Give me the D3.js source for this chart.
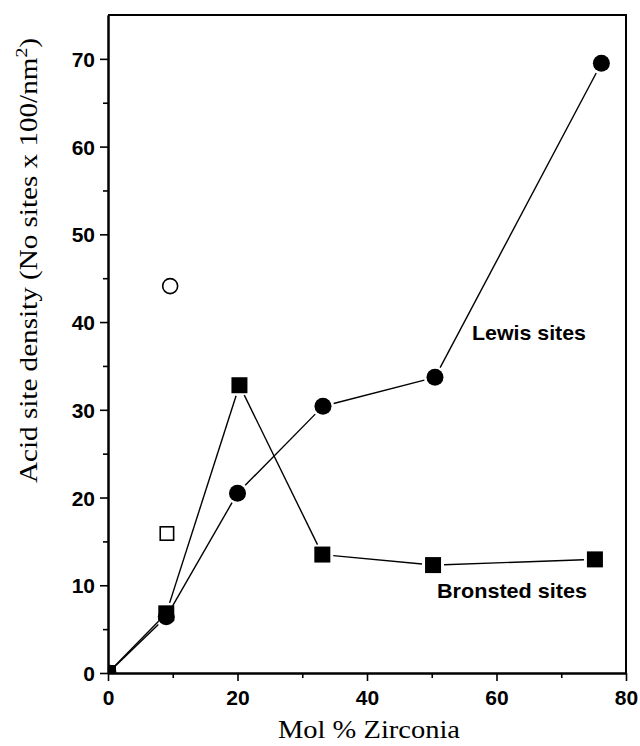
<!DOCTYPE html>
<html>
<head>
<meta charset="utf-8">
<script src="https://cdn.jsdelivr.net/npm/d3@7"></script>
<style>
  body { margin: 0; background: #fff; }
</style>
</head>
<body>
<div id="chart"></div>
<script>
// values
var lewisX = [0, 9.0, 20.0, 33.2, 50.5, 76.2];
var lewisY = [0, 6.4, 20.5, 30.4, 33.7, 69.5];
var bronstedX = [0, 9.0, 20.3, 33.1, 50.2, 75.2];
var bronstedY = [0, 6.8, 32.8, 13.5, 12.3, 12.95];
var openCircleX = [9.6], openCircleY = [44.1];
var openSquareX = [9.1], openSquareY = [15.9];

var xTicks = [0, 20, 40, 60, 80], xMinor = [10, 30, 50, 70];
var yTicks = [0, 10, 20, 30, 40, 50, 60, 70], yMinor = [5, 15, 25, 35, 45, 55, 65];

var width = 640, height = 746;
var plot = {left: 108, right: 626, top: 15, bottom: 673};

var x = d3.scaleLinear().domain([0, 80]).range([plot.left, plot.right]);
var y = d3.scaleLinear().domain([0, 75]).range([plot.bottom, plot.top]);

var svg = d3.select("#chart").append("svg")
    .attr("width", width)
    .attr("height", height);

svg.append("clipPath").attr("id", "plotclip")
  .append("rect")
    .attr("x", plot.left).attr("y", plot.top)
    .attr("width", plot.right - plot.left)
    .attr("height", plot.bottom - plot.top);

// minor ticks first, then major axes with labels
svg.append("g")
    .attr("transform", "translate(0," + plot.bottom + ")")
    .call(d3.axisBottom(x).tickValues(xMinor).tickSize(5).tickSizeOuter(0).tickFormat(""));
svg.append("g")
    .attr("transform", "translate(" + plot.left + ",0)")
    .call(d3.axisLeft(y).tickValues(yMinor).tickSize(5).tickSizeOuter(0).tickFormat(""));

var xAxis = svg.append("g")
    .attr("class", "axis")
    .attr("transform", "translate(0," + plot.bottom + ")")
    .call(d3.axisBottom(x).tickValues(xTicks).tickSize(8).tickSizeOuter(0).tickPadding(10).tickFormat(d3.format("d")));
var yAxis = svg.append("g")
    .attr("class", "axis")
    .attr("transform", "translate(" + plot.left + ",0)")
    .call(d3.axisLeft(y).tickValues(yTicks).tickSize(8).tickSizeOuter(0).tickPadding(5).tickFormat(d3.format("d")));

svg.selectAll(".tick line").attr("stroke", "#000").attr("stroke-width", 1.6);
svg.selectAll(".domain").attr("stroke", "#000").attr("stroke-width", 2);
svg.selectAll(".axis text")
    .attr("fill", "#000")
    .style("font-family", "'Liberation Sans', Arial, sans-serif")
    .style("font-weight", "bold")
    .style("font-size", "21px");
xAxis.selectAll("text").attr("dy", "0.68em");
yAxis.selectAll("text").attr("dy", "0.36em");

// top and right frame
svg.append("path")
    .attr("d", "M" + plot.left + "," + plot.top + "H" + plot.right + "V" + plot.bottom)
    .attr("fill", "none")
    .attr("stroke", "#000")
    .attr("stroke-width", 2);

// connecting lines, stopped short of the markers
var gap = 11;
function segments(xs, ys) {
  var out = [];
  for (var i = 0; i < xs.length - 1; i++) {
    var x0 = x(xs[i]), y0 = y(ys[i]), x1 = x(xs[i + 1]), y1 = y(ys[i + 1]);
    var len = Math.hypot(x1 - x0, y1 - y0);
    var ux = (x1 - x0) / len, uy = (y1 - y0) / len;
    var g0 = i === 0 ? 3 : gap;
    out.push([x0 + ux * g0, y0 + uy * g0, x1 - ux * gap, y1 - uy * gap]);
  }
  return out;
}

var lines = svg.append("g").attr("stroke", "#000").attr("stroke-width", 1.4);
[[lewisX, lewisY], [bronstedX, bronstedY]].forEach(function(s) {
  lines.selectAll(null)
      .data(segments(s[0], s[1]))
    .enter().append("line")
      .attr("x1", function(d) { return d[0]; })
      .attr("y1", function(d) { return d[1]; })
      .attr("x2", function(d) { return d[2]; })
      .attr("y2", function(d) { return d[3]; });
});

var marks = svg.append("g").attr("clip-path", "url(#plotclip)");

marks.selectAll(".lewis")
    .data(d3.zip(lewisX, lewisY))
  .enter().append("circle")
    .attr("class", "lewis")
    .attr("cx", function(d) { return x(d[0]); })
    .attr("cy", function(d) { return y(d[1]); })
    .attr("r", 8.5)
    .attr("fill", "#000");

marks.selectAll(".bronsted")
    .data(d3.zip(bronstedX, bronstedY))
  .enter().append("rect")
    .attr("class", "bronsted")
    .attr("x", function(d) { return x(d[0]) - 8; })
    .attr("y", function(d) { return y(d[1]) - 8; })
    .attr("width", 16)
    .attr("height", 16)
    .attr("fill", "#000");

marks.selectAll(".opencircle")
    .data(d3.zip(openCircleX, openCircleY))
  .enter().append("circle")
    .attr("class", "opencircle")
    .attr("cx", function(d) { return x(d[0]); })
    .attr("cy", function(d) { return y(d[1]); })
    .attr("r", 7.5)
    .attr("fill", "#fff")
    .attr("stroke", "#000")
    .attr("stroke-width", 1.6);

marks.selectAll(".opensquare")
    .data(d3.zip(openSquareX, openSquareY))
  .enter().append("rect")
    .attr("class", "opensquare")
    .attr("x", function(d) { return x(d[0]) - 6.7; })
    .attr("y", function(d) { return y(d[1]) - 6.7; })
    .attr("width", 13.4)
    .attr("height", 13.4)
    .attr("fill", "#fff")
    .attr("stroke", "#000")
    .attr("stroke-width", 1.6);

// series labels
svg.append("text")
    .attr("x", 472).attr("y", 340)
    .attr("textLength", 114)
    .attr("lengthAdjust", "spacingAndGlyphs")
    .style("font-family", "'Liberation Sans', Arial, sans-serif")
    .style("font-weight", "bold")
    .style("font-size", "21px")
    .text("Lewis sites");

svg.append("text")
    .attr("x", 437).attr("y", 598)
    .attr("textLength", 150)
    .attr("lengthAdjust", "spacingAndGlyphs")
    .style("font-family", "'Liberation Sans', Arial, sans-serif")
    .style("font-weight", "bold")
    .style("font-size", "21px")
    .text("Bronsted sites");

// axis titles
svg.append("text")
    .attr("x", 278).attr("y", 738)
    .attr("textLength", 182)
    .attr("lengthAdjust", "spacingAndGlyphs")
    .style("font-family", "'Liberation Serif', 'Times New Roman', serif")
    .style("font-size", "25px")
    .text("Mol % Zirconia");

var yTitle = svg.append("text")
    .attr("transform", "translate(37,483) rotate(-90)")
    .attr("textLength", 445)
    .attr("lengthAdjust", "spacingAndGlyphs")
    .style("font-family", "'Liberation Serif', 'Times New Roman', serif")
    .style("font-size", "25px");
yTitle.append("tspan").text("Acid site density (No sites x 100/nm");
yTitle.append("tspan").attr("dy", -10).style("font-size", "17px").text("2");
yTitle.append("tspan").attr("dy", 10).text(")");
</script>
</body>
</html>
